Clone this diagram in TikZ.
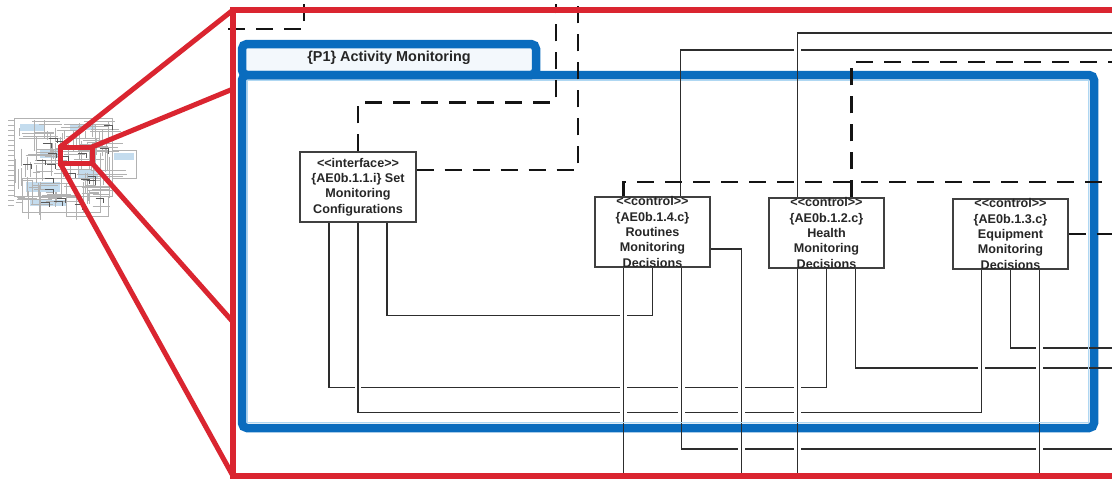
\documentclass[tikz,border=0pt]{standalone}
\usepackage{fontspec}
\newfontfamily\diagfont{Liberation Sans}
\definecolor{zoomred}{RGB}{218,37,48}
\definecolor{pkgblue}{RGB}{10,108,190}
\definecolor{pkglight}{RGB}{175,215,242}
\definecolor{pkgtab}{RGB}{243,248,252}
\definecolor{ink}{RGB}{38,38,38}
\definecolor{wireink}{RGB}{45,45,45}
\definecolor{thumbtint}{RGB}{196,220,238}
\pgfdeclarelayer{front}
\pgfsetlayers{main,front}

% all thin associations, drawn with the style given as argument
\newcommand\assocwires[1]{%
  \draw[#1] ([xshift=29pt]ifc.south) -- ++(0,93) -| (rout.south);
  \draw[#1] ([xshift=-29pt]ifc.south) -- ++(0,165) -| (hlth.south);
  \draw[#1] ([xshift=29pt]hlth.south) |- (offE |- 0,368);
  \draw[#1] (ifc.south) -- ++(0,190) -| ([xshift=-29pt]eqp.south);
  \draw[#1] ([xshift=29pt]rout.south) |- (offE |- 0,449);
  \draw[#1] (eqp.south) |- (offE |- 0,348);
  \draw[#1] ([xshift=-29pt]rout.south) -- ++(0,230);
  \draw[#1] ([yshift=-17pt]rout.east) -- ++(31,0) -- ++(0,240);
  \draw[#1] ([xshift=-29pt]hlth.south) -- ++(0,230);
  \draw[#1] ([xshift=29pt]eqp.south) -- ++(0,230);
  \draw[#1] ([xshift=28pt]rout.north) |- (offE |- 0,50);
  \draw[#1] ([xshift=-29pt]hlth.north) |- (offE |- 0,33);
}

\begin{document}
\begin{tikzpicture}[x=1pt,y=-1pt,
  wire/.style={draw=wireink, line width=1.3pt, preaction={draw=white, line width=6.5pt}},
  wiretop/.style={draw=wireink, line width=1.3pt},
  depend/.style={draw=black!92, line width=2.6pt, dash pattern=on 17pt off 11pt},
  classbox/.style={draw=black!75, fill=white, line width=1.3pt,
    minimum width=116pt, minimum height=70pt, inner sep=0pt},
  boxtext/.style={font=\diagfont\bfseries\fontsize{12.6}{15.3}\selectfont,
    text=ink, align=center, inner sep=0pt},
  zoomline/.style={draw=zoomred, line width=5pt},
  thumb/.style={draw=gray!60, line width=0.45pt},
]
\useasboundingbox (0,0) rectangle (1112,479);
\clip (0,0) rectangle (1112,479);
\fill[white] (0,0) rectangle (1112,479);

% free ends leaving the view
\coordinate (offE) at (1125,0);
\coordinate (d1a) at (228,29);
\coordinate (d1b) at (304,4);
\coordinate (d2) at (556,4);
\coordinate (d3) at (578,4);

% classes
\begin{pgfonlayer}{front}
\node[classbox] (ifc) at (358,187) {};
\node[boxtext] (ifcT) at (ifc.center) {<<interface>>\\\{AE0b.1.1.i\} Set\\Monitoring\\Configurations};
\node[classbox, minimum width=115pt] (rout) at (652.5,232) {};
\node[boxtext] (routT) at (rout.center) {<<control>>\\\{AE0b.1.4.c\}\\Routines\\Monitoring\\Decisions};
\node[classbox, minimum width=115pt] (hlth) at (826.5,233) {};
\node[boxtext] (hlthT) at (hlth.center) {<<control>>\\\{AE0b.1.2.c\}\\Health\\Monitoring\\Decisions};
\node[classbox, minimum width=115pt] (eqp) at (1010.5,234) {};
\node[boxtext] (eqpT) at (eqp.center) {<<control>>\\\{AE0b.1.3.c\}\\Equipment\\Monitoring\\Decisions};
\end{pgfonlayer}

% miniature of the whole model
\begin{scope}[thumb]
  \fill[thumbtint] (20,124) rectangle (44,131);
  \fill[thumbtint] (70,124) rectangle (96,130);
  \fill[thumbtint] (26,182) rectangle (60,192);
  \fill[thumbtint] (114,153) rectangle (134,160);
  \fill[thumbtint] (40,150) rectangle (58,158);
  \fill[thumbtint] (30,200) rectangle (66,206);
  \fill[thumbtint] (78,170) rectangle (98,178);
  \draw (14,118) rectangle (112,196);
  \draw (112,150) rectangle (136,178);
  \draw (22,178) rectangle (100,212);
  \draw (66,196) rectangle (108,216);
  \foreach \j in {0,...,17} \draw (8,{120+5*\j}) -- (14,{120+5*\j});
  \pgfmathsetseed{12}
  \foreach \k in {1,...,80} {
    \pgfmathsetmacro{\ya}{120+88*rnd}
    \pgfmathsetmacro{\xa}{15+80*rnd}
    \pgfmathsetmacro{\xb}{\xa+6+30*rnd}
    \draw (\xa,\ya) -- (\xb,\ya);
  }
  \foreach \k in {1,...,75} {
    \pgfmathsetmacro{\xa}{15+95*rnd}
    \pgfmathsetmacro{\ya}{119+75*rnd}
    \pgfmathsetmacro{\yb}{\ya+6+25*rnd}
    \draw (\xa,\ya) -- (\xa,\yb);
  }
  \foreach \k in {1,...,22} {
    \pgfmathsetmacro{\xa}{16+90*rnd}
    \pgfmathsetmacro{\ya}{120+85*rnd}
    \draw[gray!70!black] (\xa,\ya) -- ++(8,0) -- ++(0,5);
  }
\end{scope}

% associations, with jumps where they cross
\assocwires{wire}

% package {P1}
\fill[pkgtab] (242,44) rectangle (536,75);
\draw[pkglight, line width=1.2pt] (247.5,80.5) rectangle (1088.5,422.5);
\draw[pkgblue, line width=8.5pt, rounded corners=5pt] (242,44) rectangle (536,75);
\draw[pkgblue, line width=8.5pt, rounded corners=5pt] (242,75) rectangle (1094,428);
\node[font=\diagfont\bfseries\fontsize{14.4}{17}\selectfont, text=ink] (title) at (389,58) {\{P1\} Activity Monitoring};

% associations stay visible across the package border
\begin{scope}[even odd rule]
  \clip (236,69) rectangle (1100,434) (247,81) rectangle (1089,423);
  \assocwires{wiretop}
\end{scope}

% dependencies
\draw[depend] (d1a) -| (d1b);
\draw[depend] (ifc.north) -- ++(0,-49) -| (d2);
\draw[depend] ([yshift=17pt]ifc.east) -| (d3);
\draw[depend] ([xshift=-29pt]rout.north) |- (offE |- 0,182);
\draw[depend] ([xshift=25pt]hlth.north) |- (offE |- 0,62);
\draw[depend] (eqp.east) -- (offE |- eqp.east);

% zoom frame and its rays
\draw[zoomred, line width=5.5pt] (233,10) rectangle (1130,476);
\coordinate (zA) at (60,147);
\coordinate (zB) at (92,147);
\coordinate (zC) at (92,163);
\coordinate (zD) at (60,163);
\draw[zoomline] (zA) rectangle (zC);
\draw[zoomline] (zA) -- (233,10);
\draw[zoomline] (zB) -- (233,89);
\draw[zoomline] (zC) -- (233,322);
\draw[zoomline] (zD) -- (233,476);
\end{tikzpicture}
\end{document}
